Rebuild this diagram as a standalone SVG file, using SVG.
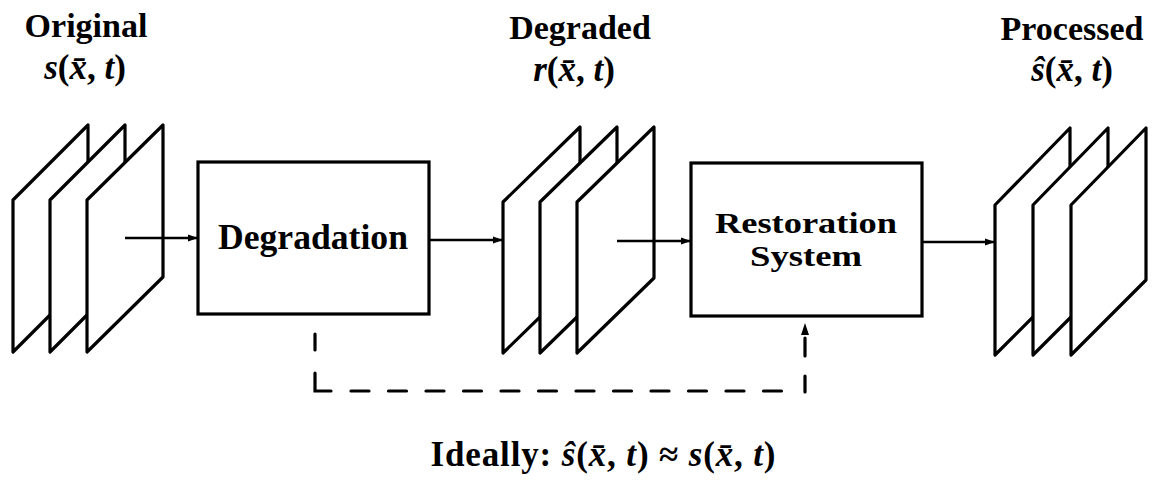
<svg xmlns="http://www.w3.org/2000/svg" width="1154" height="489" viewBox="0 0 1154 489">
<style>
.frame{fill:#fff;stroke:#000;stroke-width:3.2;stroke-linejoin:round}
.box{fill:#fff;stroke:#000;stroke-width:3.2}
.ln{fill:none;stroke:#000;stroke-width:2.6}
.dash{fill:none;stroke:#000;stroke-width:3.2;stroke-linecap:round}
.t{font-family:"Liberation Serif","Times New Roman",serif;font-weight:bold;fill:#000;text-anchor:middle}
.h{font-size:34px}
.b{font-size:35px}
.r{font-size:30px}
.m{font-size:35px}
.i{font-style:italic}
</style>
<defs>
<marker id="ah" markerUnits="userSpaceOnUse" markerWidth="14" markerHeight="10" refX="10" refY="5" orient="auto">
<path d="M0,1.5 L10,5 L0,8.5 Z" fill="#000"/>
</marker>
<marker id="ah2" markerUnits="userSpaceOnUse" markerWidth="16" markerHeight="12" refX="12" refY="6" orient="auto">
<path d="M0,2 L12,6 L0,10 Z" fill="#000"/>
</marker>
</defs>

<g id="original">
<polygon class="frame" points="13,200 88,125 88,277 13,352"/>
<polygon class="frame" points="50,200 125,125 125,277 50,352"/>
<polygon class="frame" points="87,200 163,125 163,277 87,352"/>
<text class="t h" x="86" y="37">Original</text>
<text class="t m" x="85" y="79"><tspan class="i">s</tspan>(<tspan class="i">x̄</tspan>, <tspan class="i">t</tspan>)</text>
</g>

<g id="degradation">
<rect class="box" x="198" y="162" width="231" height="152"/>
<text class="t b" x="313" y="249" textLength="190" lengthAdjust="spacingAndGlyphs">Degradation</text>
</g>

<g id="degraded">
<polygon class="frame" points="503,202 580,127 580,278 503,353"/>
<polygon class="frame" points="540,202 617,127 617,278 540,353"/>
<polygon class="frame" points="577,202 654,127 654,278 577,353"/>
<text class="t h" x="580" y="39">Degraded</text>
<text class="t m" x="574" y="81"><tspan class="i">r</tspan>(<tspan class="i">x̄</tspan>, <tspan class="i">t</tspan>)</text>
</g>

<g id="restoration">
<rect class="box" x="691" y="163" width="231" height="153"/>
<text class="t r" x="806" y="233" textLength="182" lengthAdjust="spacingAndGlyphs">Restoration</text>
<text class="t r" x="806" y="266" textLength="112" lengthAdjust="spacingAndGlyphs">System</text>
</g>

<g id="processed">
<polygon class="frame" points="995,205 1070,128 1070,280 995,355"/>
<polygon class="frame" points="1033,205 1108,128 1108,280 1033,355"/>
<polygon class="frame" points="1071,205 1146,128 1146,280 1071,355"/>
<text class="t h" x="1072" y="40">Processed</text>
<text class="t m" x="1072" y="81"><tspan class="i">ŝ</tspan>(<tspan class="i">x̄</tspan>, <tspan class="i">t</tspan>)</text>
</g>

<g id="connectors">
<line class="ln" x1="125" y1="238" x2="198" y2="238" marker-end="url(#ah)"/>
<line class="ln" x1="429" y1="240" x2="503" y2="240" marker-end="url(#ah)"/>
<line class="ln" x1="617" y1="241" x2="691" y2="241" marker-end="url(#ah)"/>
<line class="ln" x1="922" y1="242" x2="995" y2="242" marker-end="url(#ah)"/>
<line class="dash" x1="315" y1="334" x2="315" y2="350"/>
<path class="dash" d="M315,373 V391 H331"/>
<line class="dash" x1="351" y1="391" x2="785" y2="391" stroke-dasharray="18 19.5" stroke-linecap="butt"/>
<path class="dash" d="M805,392 V323" stroke-dasharray="16 20 18 20" stroke-linecap="butt" marker-end="url(#ah2)"/>
</g>

<text class="t m" x="603" y="466" textLength="345" lengthAdjust="spacing">Ideally:  <tspan class="i">ŝ</tspan>(<tspan class="i">x̄</tspan>, <tspan class="i">t</tspan>) ≈ <tspan class="i">s</tspan>(<tspan class="i">x̄</tspan>, <tspan class="i">t</tspan>)</text>
</svg>
